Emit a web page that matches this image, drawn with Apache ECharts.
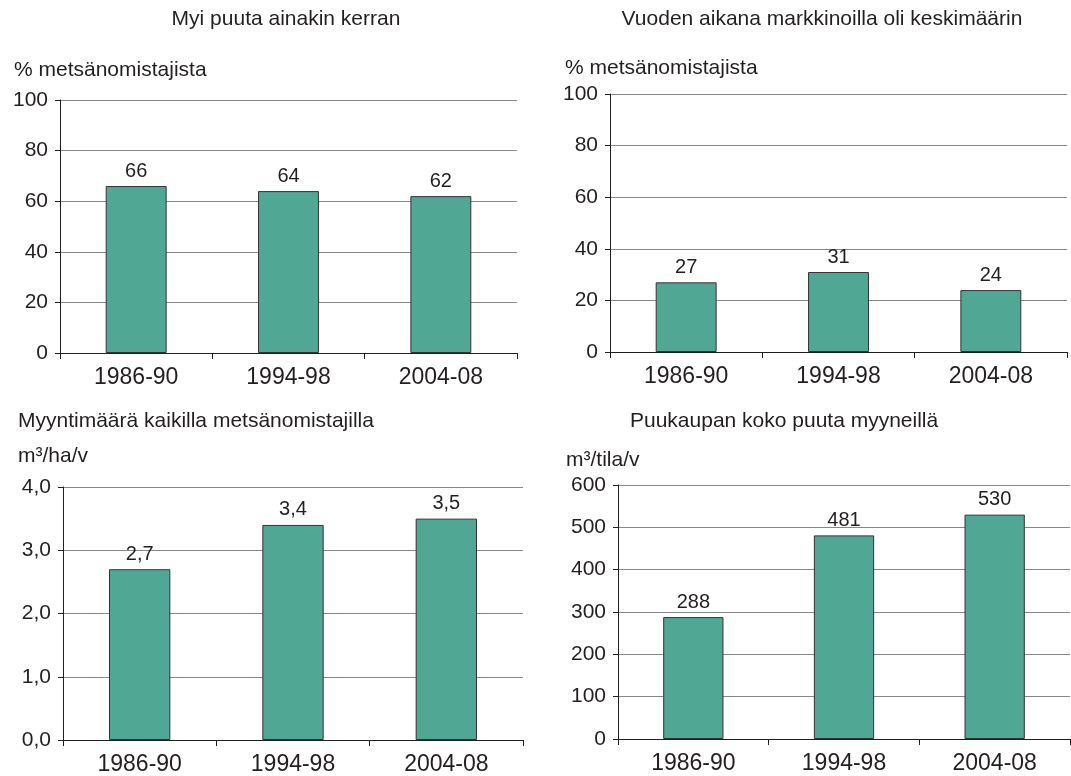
<!DOCTYPE html>
<html>
<head>
<meta charset="utf-8">
<script src="https://cdn.jsdelivr.net/npm/echarts@6/dist/echarts.min.js"></script>
<style>
  html, body { margin: 0; padding: 0; background: #fff; }
  #main { width: 1071px; height: 776px; }
</style>
</head>
<body>
<div id="main"></div>
<script>
// kaudet
var periods = ['1986-90', '1994-98', '2004-08'];

// myi puuta ainakin kerran, % metsänomistajista
var soldOnce = [66, 64, 62];
// vuoden aikana markkinoilla, % metsänomistajista
var onMarket = [27, 31, 24];
// myyntimäärä kaikilla metsänomistajilla, m3/ha/v
var volumePerHa = [2.7, 3.4, 3.5];
// puukaupan koko puuta myyneillä, m3/tila/v
var salePerFarm = [288, 481, 530];

var txt = '#231f20';
var font = 'Liberation Sans, Arial, sans-serif';

function xAx(idx) {
  return {
    type: 'category',
    gridIndex: idx,
    data: periods,
    axisLine: { lineStyle: { color: txt, width: 1 } },
    axisTick: { show: true, length: 6, lineStyle: { color: txt } },
    axisLabel: { color: txt, fontSize: 23, fontFamily: font, margin: 13 }
  }
}

function yAx(idx, max, interval, fmt) {
  return {
    type: 'value',
    gridIndex: idx,
    min: 0,
    max: max,
    interval: interval,
    axisLine: { show: true, lineStyle: { color: txt, width: 1 } },
    axisTick: { show: true, length: 5, lineStyle: { color: txt } },
    axisLabel: { color: txt, fontSize: 21, fontFamily: font, margin: 12, formatter: fmt },
    splitLine: { lineStyle: { color: '#888', width: 1 } }
  }
}

function barSeries(idx, data, fmt) {
  return {
    type: 'bar',
    xAxisIndex: idx,
    yAxisIndex: idx,
    data: data,
    barWidth: '40%',
    itemStyle: { color: '#50a894', borderColor: '#333', borderWidth: 1 },
    label: {
      show: true,
      position: 'top',
      distance: 5,
      color: txt,
      fontSize: 20,
      fontFamily: font,
      formatter: fmt
    }
  }
}

function comma(v) { return v.toFixed(1).replace('.', ',') }

function ttl(text, left, top, align) {
  return {
    text: text,
    left: left,
    top: top,
    textAlign: align || 'left',
    padding: 0,
    textStyle: { color: txt, fontSize: 21, fontWeight: 'normal', fontFamily: font }
  }
}

var chart = echarts.init(document.getElementById('main'));
chart.setOption({
  animation: false,
  backgroundColor: '#fff',
  title: [
    ttl('Myi puuta ainakin kerran', 286, 9, 'center'),
    ttl('% metsänomistajista', 14, 60),
    ttl('Vuoden aikana markkinoilla oli keskimäärin', 822, 9, 'center'),
    ttl('% metsänomistajista', 565, 58),
    ttl('Myyntimäärä kaikilla metsänomistajilla', 18, 411),
    ttl('m³/ha/v', 18, 446),
    ttl('Puukaupan koko puuta myyneillä', 630, 411),
    ttl('m³/tila/v', 566, 450)
  ],
  grid: [
    { left: 60, top: 100, width: 457, height: 253 },
    { left: 610, top: 94, width: 457, height: 258 },
    { left: 63, top: 487, width: 460, height: 255 },
    { left: 618, top: 485, width: 452, height: 254 }
  ],
  xAxis: [xAx(0), xAx(1), xAx(2), xAx(3)],
  yAxis: [
    yAx(0, 100, 20),
    yAx(1, 100, 20),
    yAx(2, 4, 1, function (v) { return comma(v) }),
    yAx(3, 600, 100)
  ],
  series: [
    barSeries(0, soldOnce),
    barSeries(1, onMarket),
    barSeries(2, volumePerHa, function (p) { return comma(p.value) }),
    barSeries(3, salePerFarm)
  ]
});
</script>
</body>
</html>
